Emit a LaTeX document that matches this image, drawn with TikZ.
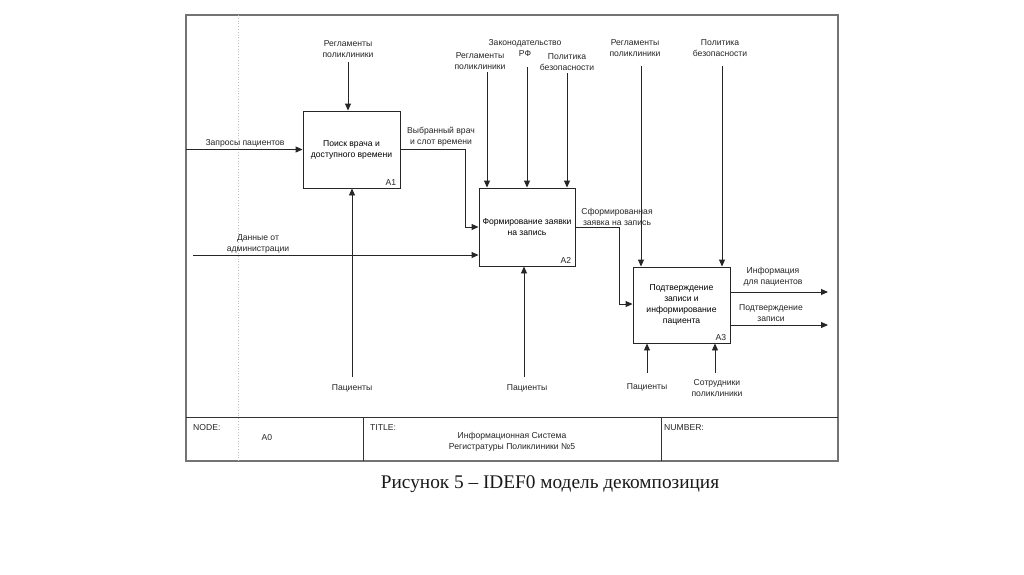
\documentclass[tikz,border=0pt]{standalone}
\usepackage{fontspec}
\setmainfont{Liberation Sans}
\newfontfamily\capfont{Liberation Serif}
\usetikzlibrary{arrows.meta}
\begin{document}
\begin{tikzpicture}[x=1pt,y=-1pt,
  lbl/.style={font=\fontsize{8.6}{11}\selectfont, align=center, inner sep=0pt, text=black!85},
  fbox/.style={draw=black!85, line width=0.9pt, align=center, inner sep=0pt,
    font=\fontsize{8.6}{11}\selectfont},
  flow/.style={draw=black!85, line width=0.9pt, -{Triangle[length=7pt,width=6pt]}},
  frame/.style={draw=black!55, line width=1.2pt},
  grid/.style={draw=black!80, line width=0.9pt}
]
\useasboundingbox[fill=white] (0,0) rectangle (1024,574);

% frame and table
\draw[frame] (186,15) rectangle (838,461);
\draw[black!25, dotted, line width=0.8pt] (238,15) -- (238,461);
\draw[grid] (186,417) -- (838,417);
\draw[grid] (363,417) -- (363,461);
\draw[grid] (661,417) -- (661,461);

% boxes
\node[fbox, minimum width=97pt, minimum height=77pt] (A1) at (351.5,149.5) {Поиск врача и\\доступного времени};
\node[fbox, minimum width=96pt, minimum height=78pt] (A2) at (527,227) {Формирование заявки\\на запись};
\node[fbox, minimum width=97pt, minimum height=76pt] (A3) at (681.5,305) {Подтверждение\\записи и\\информирование\\пациента};
\node[lbl, anchor=south east, xshift=-4pt, yshift=3pt] (nA1) at (A1.south east) {A1};
\node[lbl, anchor=south east, xshift=-4pt, yshift=3pt] (nA2) at (A2.south east) {A2};
\node[lbl, anchor=south east, xshift=-4pt, yshift=3pt] (nA3) at (A3.south east) {A3};

% A1 arrows
\node[lbl] (q1) at (245,143) {Запросы пациентов};
\coordinate (q0) at (186,149.5);
\draw[flow] (q0) -- (A1.west);

\node[lbl] (c1) at (348,49.5) {Регламенты\\поликлиники};
\coordinate (c1s) at (348,62);
\draw[flow] (c1s) -- (c1s |- A1.north);

\node[lbl] (m1) at (352,388) {Пациенты};
\coordinate (m1s) at (352,377);
\draw[flow] (m1s) -- (m1s |- A1.south);

\node[lbl] (o1) at (441,136.5) {Выбранный врач\\и слот времени};
\coordinate (j1) at (465,227);
\draw[flow] (A1.east) -| (j1) -- (j1 -| A2.west);

% A2 arrows
\node[lbl] (d1) at (258,243.5) {Данные от\\администрации};
\coordinate (d0) at (193,255);
\draw[flow] (d0) -- (d0 -| A2.west);

\node[lbl] (L1) at (480,61.5) {Регламенты\\поликлиники};
\node[lbl] (L2) at (525,48.5) {Законодательство\\РФ};
\node[lbl] (L3) at (567,62.5) {Политика\\безопасности};
\coordinate (k1) at (487,72);
\coordinate (k2) at (527,67);
\coordinate (k3) at (567,73);
\draw[flow] (k1) -- (k1 |- A2.north);
\draw[flow] (k2) -- (k2 |- A2.north);
\draw[flow] (k3) -- (k3 |- A2.north);

\node[lbl] (m2) at (527,388) {Пациенты};
\coordinate (m2s) at (524,377);
\draw[flow] (m2s) -- (m2s |- A2.south);

\node[lbl] (o2) at (617,216.5) {Сформированная\\заявка на запись};
\coordinate (j2) at (619,304);
\draw[flow] (A2.east) -| (j2) -- (j2 -| A3.west);

% A3 arrows
\node[lbl] (L4) at (635,48.5) {Регламенты\\поликлиники};
\node[lbl] (L5) at (720,48.5) {Политика\\безопасности};
\coordinate (k4) at (641,66);
\coordinate (k5) at (722,66);
\draw[flow] (k4) -- (k4 |- A3.north);
\draw[flow] (k5) -- (k5 |- A3.north);

\node[lbl] (r1) at (773,276.5) {Информация\\для пациентов};
\node[lbl] (r2) at (771,313.5) {Подтверждение\\записи};
\coordinate (e1) at (828,292);
\coordinate (e2) at (828,325);
\draw[flow] (e1 -| A3.east) -- (e1);
\draw[flow] (e2 -| A3.east) -- (e2);

\node[lbl] (m3) at (647,387) {Пациенты};
\node[lbl] (m4) at (717,388) {Сотрудники\\поликлиники};
\coordinate (m3s) at (647,373);
\coordinate (m4s) at (715,373);
\draw[flow] (m3s) -- (m3s |- A3.south);
\draw[flow] (m4s) -- (m4s |- A3.south);

% table text
\node[lbl, anchor=west] (t1) at (193,428) {NODE:};
\node[lbl] (t2) at (267,438) {A0};
\node[lbl, anchor=west] (t3) at (370,428) {TITLE:};
\node[lbl] (t4) at (512,442) {Информационная Система\\Регистратуры Поликлиники №5};
\node[lbl, anchor=west] (t5) at (664,428) {NUMBER:};

% caption
\node[inner sep=0pt, font=\capfont\fontsize{19.3}{22}\selectfont, text=black!90] (cap) at (550,484) {Рисунок 5 – IDEF0 модель декомпозиция};
\end{tikzpicture}
\end{document}
